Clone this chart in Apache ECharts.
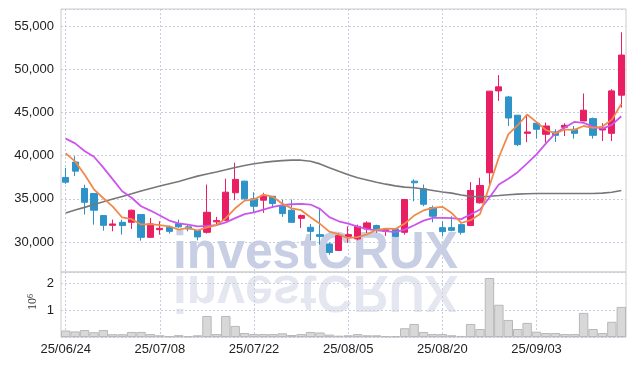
<!DOCTYPE html>
<html><head><meta charset="utf-8">
<script src="https://cdn.jsdelivr.net/npm/echarts@6/dist/echarts.min.js"></script>
<style>html,body{margin:0;padding:0;background:#fff}#c{width:634px;height:366px}</style>
</head><body><div id="c"></div>
<script>
const dates = ['25/06/24','25/06/25','25/06/26','25/06/27','25/06/30','25/07/01','25/07/02','25/07/03','25/07/04','25/07/07',
'25/07/08','25/07/09','25/07/10','25/07/11','25/07/14','25/07/15','25/07/16','25/07/17','25/07/18','25/07/21',
'25/07/22','25/07/23','25/07/24','25/07/25','25/07/28','25/07/29','25/07/30','25/07/31','25/08/01','25/08/04',
'25/08/05','25/08/06','25/08/07','25/08/08','25/08/11','25/08/12','25/08/13','25/08/14','25/08/18','25/08/19',
'25/08/20','25/08/21','25/08/22','25/08/25','25/08/26','25/08/27','25/08/28','25/08/29','25/09/01','25/09/02',
'25/09/03','25/09/04','25/09/05','25/09/08','25/09/09','25/09/10','25/09/11','25/09/12','25/09/15','25/09/16'];
const opens = [37480,39260,36200,35620,33060,31930,32280,32280,33180,30540,
31430,31700,32130,31750,31350,31120,32330,32510,35700,37050,
35000,34840,35300,34140,33680,32740,31700,30850,29770,29020,
30650,30350,31510,31900,31230,31510,31120,37050,36160,33990,
31660,31660,32010,31900,34540,38020,47510,46810,44690,42590,
43760,42480,42750,43290,43060,44020,44300,42980,42590,47010];
const closes = [36930,38210,34600,33680,31930,32090,31900,33680,30540,32090,
31580,31230,31750,31510,30580,33440,32480,35770,37250,35000,
34140,35300,34450,33290,32280,33060,31230,30650,28790,30730,
30850,31810,32210,31430,31430,30650,34920,36860,34370,32980,
31200,31350,31120,35970,36550,47480,47980,44370,41280,42750,
43060,43440,42360,43520,42590,45270,42360,43140,47510,51660];
const lows = [36750,37630,33180,32010,31310,31240,30850,31510,30150,30470,
30850,30970,31630,31230,30190,30970,32010,32400,34840,34900,
33370,33370,33950,32910,32200,31630,30190,29690,28520,29020,
29900,30190,31040,31040,30700,30550,30850,34720,34140,32280,
30650,31230,30850,31900,34450,36700,46350,43440,41120,41580,
41980,41510,41580,42280,41980,44020,41980,41700,41700,45580];
const highs = [38600,39950,36630,35650,33060,32590,32590,33760,33180,32790,
32400,31900,32590,32010,31350,36660,32910,37330,39190,37100,
35770,35700,35300,34920,34920,33180,32090,33840,29950,31040,
31810,32010,32400,32000,31550,31600,34920,37250,36660,34220,
32400,32980,32130,36930,37440,47480,49340,46930,44690,44800,
43900,43840,43060,43760,43440,47210,44420,43760,47710,54300];
const volumes = [245000,210000,260000,180000,260000,105000,105000,190000,190000,110000,
65000,30000,70000,30000,65000,790000,110000,790000,415000,150000,
110000,110000,110000,140000,75000,110000,190000,170000,90000,50000,
65000,110000,65000,65000,30000,30000,330000,490000,190000,110000,
110000,65000,40000,490000,300000,2215000,1210000,640000,300000,530000,
200000,150000,150000,110000,110000,905000,300000,150000,570000,1130000];
const ma5 = [40270,39340,37830,36100,35070,34100,32840,32650,32030,32060,
31960,31820,31440,31630,31330,31700,31950,32760,33900,34790,
34930,35490,35230,34440,33890,33680,32860,32100,31200,30890,
30450,30570,30880,31410,31550,31510,32130,33060,33650,33960,
34070,33350,32200,32520,33240,36490,39820,42470,43530,44770,
43890,42980,42580,43030,43000,43440,43220,43380,44180,45990];
const ma20 = [41980,41430,40540,39880,38610,37250,35880,35120,34140,33640,
33060,32480,32160,32010,31810,31860,31950,32270,32770,33230,
33440,33760,34070,34260,34370,34420,34340,33840,32880,32400,
32130,31780,31490,31350,31260,31140,31430,31940,32480,32790,
32790,32770,32650,33180,33760,35150,36660,37330,38090,39110,
40150,41430,42590,43260,43910,43810,43370,43140,43580,44570];
const ma60 = [33370,33700,34010,34340,34650,34980,35280,35590,35910,36200,
36480,36750,37010,37330,37630,37870,38110,38370,38640,38870,
39060,39220,39340,39430,39480,39480,39360,39050,38610,38200,
37800,37440,37180,36920,36700,36500,36360,36280,36140,35970,
35800,35660,35450,35280,35250,35290,35380,35480,35540,35580,
35620,35620,35620,35620,35620,35620,35620,35660,35760,35970];

const candleData = dates.map((d, i) => [opens[i], closes[i], lows[i], highs[i]]);
const UP = '#e91e63', DOWN = '#2e93c8';
const FONT = '"Liberation Sans", Arial, sans-serif';
const gridLine = { show: true, lineStyle: { color: '#c9cbe0', type: [2, 2], width: 1 } };

const chart = echarts.init(document.getElementById('c'));
chart.setOption({
  animation: false,
  grid: [
    { left: 61, right: 8, top: 9, height: 263, show: true, borderColor: '#cccccc', borderWidth: 1 },
    { left: 61, right: 8, top: 272, height: 65, show: true, borderColor: '#cccccc', borderWidth: 1 }
  ],
  xAxis: [
    { type: 'category', gridIndex: 0, data: dates, boundaryGap: true,
      axisLine: { show: false }, axisTick: { show: false }, axisLabel: { show: false },
      splitLine: Object.assign({ interval: 9, alignWithLabel: true }, gridLine) },
    { type: 'category', gridIndex: 1, data: dates, boundaryGap: true,
      axisLine: { show: false }, axisTick: { show: false },
      axisLabel: { interval: 9, fontSize: 13, color: '#222', fontFamily: FONT, margin: 6 },
      splitLine: Object.assign({ interval: 9, alignWithLabel: true }, gridLine) }
  ],
  yAxis: [
    { type: 'value', gridIndex: 0, min: 26520, max: 57000, scale: true,
      axisLine: { show: false }, axisTick: { show: false },
      axisLabel: { fontSize: 13, color: '#222', fontFamily: FONT, margin: 7, showMinLabel: false, showMaxLabel: false,
        formatter: v => v.toLocaleString('en-US') },
      splitLine: gridLine },
    { type: 'value', gridIndex: 1, min: 0, max: 2440000, interval: 1000000,
      axisLine: { show: false }, axisTick: { show: false },
      axisLabel: { fontSize: 13, color: '#222', fontFamily: FONT, margin: 7, showMinLabel: false, showMaxLabel: false,
        formatter: v => String(v / 1000000) },
      splitLine: gridLine }
  ],
  graphic: [
    { type: 'text', x: 173, y: 272, scaleX: 0.957, z: -1, silent: true,
      style: { x: 0, y: -18, text: 'investCRUX', fontSize: 52, fontWeight: 'bold', fontFamily: FONT,
        fill: '#c8cfe4', align: 'left', verticalAlign: 'middle' } },
    { type: 'text', x: 173, y: 272, scaleX: 0.957, scaleY: -1, z: -1, silent: true,
      style: { x: 0, y: -18, text: 'investCRUX', fontSize: 52, fontWeight: 'bold', fontFamily: FONT,
        fill: '#e4e7f0', align: 'left', verticalAlign: 'middle' } },
    { type: 'text', x: 33, y: 302, rotation: Math.PI / 2, silent: true,
      style: { text: '{a|10}{b|6}', align: 'center', verticalAlign: 'middle',
        rich: { a: { fontSize: 12, fontFamily: '"Liberation Serif", serif', fill: '#333' },
                b: { fontSize: 8, fontFamily: '"Liberation Serif", serif', fill: '#333', verticalAlign: 'top' } } } }
  ],
  series: [
    { type: 'candlestick', xAxisIndex: 0, yAxisIndex: 0, data: candleData, barWidth: '70%',
      itemStyle: { color: UP, color0: DOWN, borderColor: UP, borderColor0: DOWN, borderWidth: 1 } },
    { type: 'line', xAxisIndex: 0, yAxisIndex: 0, data: ma60, showSymbol: false, smooth: false,
      lineStyle: { color: '#777777', width: 1.6 } },
    { type: 'line', xAxisIndex: 0, yAxisIndex: 0, data: ma20, showSymbol: false, smooth: false,
      lineStyle: { color: '#cc55ee', width: 1.8 } },
    { type: 'line', xAxisIndex: 0, yAxisIndex: 0, data: ma5, showSymbol: false, smooth: false,
      lineStyle: { color: '#f08a4b', width: 1.8 } },
    { type: 'bar', xAxisIndex: 1, yAxisIndex: 1, data: volumes, barCategoryGap: '0%',
      itemStyle: { color: '#d8d8d8', borderColor: '#b8b8b8', borderWidth: 1 } }
  ]
});
</script></body></html>
